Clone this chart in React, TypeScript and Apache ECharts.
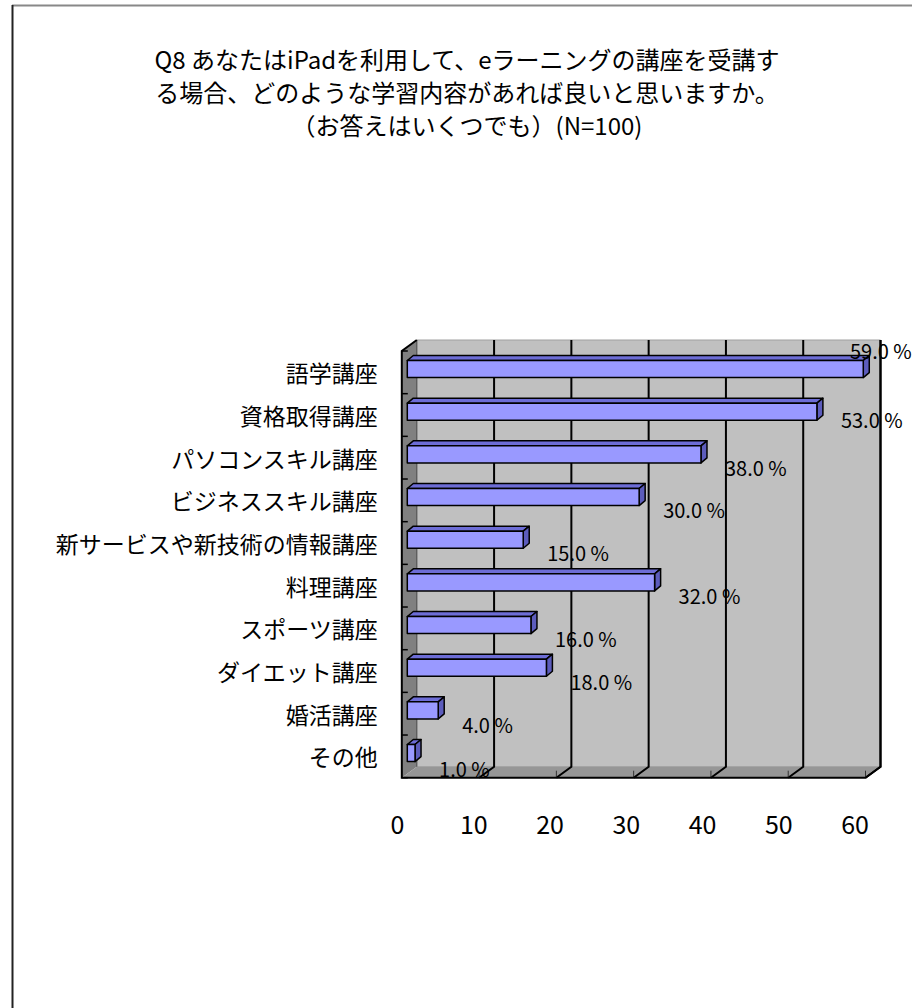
import React, { useEffect, useRef } from "react";
import * as echarts from "echarts";

const titleLines = [
  "Q8 あなたはiPadを利用して、eラーニングの講座を受講す",
  "る場合、どのような学習内容があれば良いと思いますか。",
  "（お答えはいくつでも）(N=100)",
];
const categories = [
  "語学講座",
  "資格取得講座",
  "パソコンスキル講座",
  "ビジネススキル講座",
  "新サービスや新技術の情報講座",
  "料理講座",
  "スポーツ講座",
  "ダイエット講座",
  "婚活講座",
  "その他",
];
const values = [59, 53, 38, 30, 15, 32, 16, 18, 4, 1];
const xTicks = [0, 10, 20, 30, 40, 50, 60];
// vertical nudges of the value labels (Excel 3D label placement)
const labelNudgeY = [-32, -5, 0, -1, 0, 0, 0, 1, 1, 2];

const FONT = "'Noto Sans CJK JP', 'Noto Sans', sans-serif";
const BAR_DEPTH = [6, -5];
const BACK = [9.5, -7.7];
const FRONT = [-5.5, 3.3];

export default function App() {
  const ref = useRef<HTMLDivElement>(null);
  useEffect(() => {
    if (!ref.current) return;
    const chart = echarts.init(ref.current, undefined, { renderer: "svg" });
    const option: any = {
      animation: false,
      backgroundColor: "#ffffff",
      title: {
        text: titleLines.join("\n"),
        left: 462,
        top: 37,
        textAlign: "center",
        textStyle: {
          fontFamily: FONT,
          fontSize: 24,
          fontWeight: "normal",
          color: "#000",
          lineHeight: 33,
        },
      },
      graphic: [
        { type: "line", shape: { x1: 12, y1: 5.5, x2: 912, y2: 5.5 }, style: { stroke: "#888888", lineWidth: 2 } },
        { type: "line", shape: { x1: 12.5, y1: 5, x2: 12.5, y2: 1008 }, style: { stroke: "#222222", lineWidth: 2 } },
      ],
      grid: [
        { left: 407.3, top: 347.7, width: 463.7, height: 426.7 },
        { left: 401.8, top: 351, width: 463.7, height: 426.7 },
        { left: 397.5, top: 351, width: 457.5, height: 426.7 },
      ],
      xAxis: [
        { gridIndex: 0, type: "value", min: 0, max: 60, interval: 10, show: false },
        { gridIndex: 1, type: "value", min: 0, max: 60, interval: 10, show: false },
        {
          gridIndex: 2,
          type: "value",
          min: 0,
          max: 60,
          interval: 10,
          axisLine: { show: false },
          axisTick: { show: false },
          splitLine: { show: false },
          axisLabel: { margin: 33, fontSize: 25, fontFamily: FONT, color: "#000" },
        },
      ],
      yAxis: [
        { gridIndex: 0, type: "category", data: categories, inverse: true, show: false },
        {
          gridIndex: 1,
          type: "category",
          data: categories,
          inverse: true,
          axisLine: { show: false },
          axisTick: { show: false },
          splitLine: { show: false },
          axisLabel: { margin: 24, fontSize: 23, fontFamily: FONT, color: "#000" },
        },
        { gridIndex: 2, type: "value", show: false },
      ],
      series: [
        {
          type: "custom",
          xAxisIndex: 0,
          yAxisIndex: 0,
          silent: true,
          data: [[0, 0]],
          renderItem: (params: any, api: any) => {
            const cs = params.coordSys;
            const x0 = cs.x, x1 = cs.x + cs.width, y0 = cs.y, y1 = cs.y + cs.height;
            const bx0 = x0 + BACK[0], bx1 = x1 + BACK[0], by0 = y0 + BACK[1], by1 = y1 + BACK[1];
            const fx0 = x0 + FRONT[0], fx1 = x1 + FRONT[0], fy0 = y0 + FRONT[1], fy1 = y1 + FRONT[1];
            const children: any[] = [];
            children.push({
              type: "polygon",
              shape: { points: [[bx0, by0], [bx1, by0], [bx1, by1], [bx0, by1]] },
              style: { fill: "#c0c0c0", stroke: "#a0a0a0", lineWidth: 1 },
            });
            children.push({
              type: "polygon",
              shape: { points: [[fx0, fy0], [bx0, by0], [bx0, by1], [fx0, fy1]] },
              style: { fill: "#808080" },
            });
            children.push({
              type: "polygon",
              shape: { points: [[fx0, fy1], [bx0, by1], [bx1, by1], [fx1, fy1]] },
              style: { fill: "#969696" },
            });
            children.push({
              type: "line",
              shape: { x1: bx0, y1: by0, x2: bx0, y2: by1 },
              style: { stroke: "#4a4a4a", lineWidth: 1 },
            });
            xTicks.forEach((t) => {
              const x = api.coord([t, 0])[0];
              if (t > 0) {
                children.push({
                  type: "polyline",
                  shape: { points: [[x + BACK[0], by0], [x + BACK[0], by1], [x + FRONT[0], fy1]] },
                  style: { stroke: "#000", lineWidth: 2, fill: null },
                });
              }
              children.push({
                type: "line",
                shape: { x1: x + FRONT[0], y1: fy1, x2: x + FRONT[0], y2: fy1 - 7 },
                style: { stroke: "#333", lineWidth: 1 },
              });
            });
            const band = cs.height / categories.length;
            for (let i = 0; i <= categories.length; i++) {
              const y = fy0 + band * i;
              children.push({
                type: "line",
                shape: { x1: fx0, y1: y, x2: fx0 + 6, y2: y },
                style: { stroke: "#000", lineWidth: 1.5 },
              });
            }
            children.push({
              type: "polyline",
              shape: { points: [[bx0, by0], [fx0, fy0], [fx0, fy1], [fx1, fy1], [bx1, by1], [bx1, by0]] },
              style: { stroke: "#000", lineWidth: 2, fill: null },
            });
            return { type: "group", children };
          },
        },
        {
          type: "custom",
          xAxisIndex: 0,
          yAxisIndex: 0,
          silent: true,
          data: values.map((v, i) => [v, i]),
          renderItem: (params: any, api: any) => {
            const v = api.value(0);
            const i = api.value(1);
            const [xe, yc] = api.coord([v, i]);
            const xs = api.coord([0, i])[0];
            const h = api.size([0, 1])[1] * 0.4;
            const yt = yc - h / 2, yb = yc + h / 2;
            const [dx, dy] = BAR_DEPTH;
            const edge = { stroke: "#000", lineWidth: 1.5, lineJoin: "round" };
            const lx = Math.min(xe + 24, api.getWidth() - 62);
            return {
              type: "group",
              children: [
                {
                  type: "polygon",
                  shape: { points: [[xs, yt], [xs + dx, yt + dy], [xe + dx, yt + dy], [xe, yt]] },
                  style: { fill: "#6d6dd6", ...edge },
                },
                {
                  type: "polygon",
                  shape: { points: [[xe, yt], [xe + dx, yt + dy], [xe + dx, yb + dy], [xe, yb]] },
                  style: { fill: "#5c5cbc", ...edge },
                },
                {
                  type: "rect",
                  shape: { x: xs, y: yt, width: xe - xs, height: h },
                  style: { fill: "#9999ff", ...edge },
                },
                {
                  type: "text",
                  x: lx,
                  y: yc + 13 + labelNudgeY[i],
                  style: {
                    text: v.toFixed(1) + " %",
                    fill: "#000",
                    fontSize: 20,
                    fontFamily: FONT,
                    align: "left",
                    verticalAlign: "middle",
                  },
                },
              ],
            };
          },
        },
      ],
    };
    chart.setOption(option);
    return () => chart.dispose();
  }, []);
  return (
    <div
      ref={ref}
      style={{ position: "fixed", left: 0, top: 0, width: 912, height: 1008, background: "#fff" }}
    />
  );
}
